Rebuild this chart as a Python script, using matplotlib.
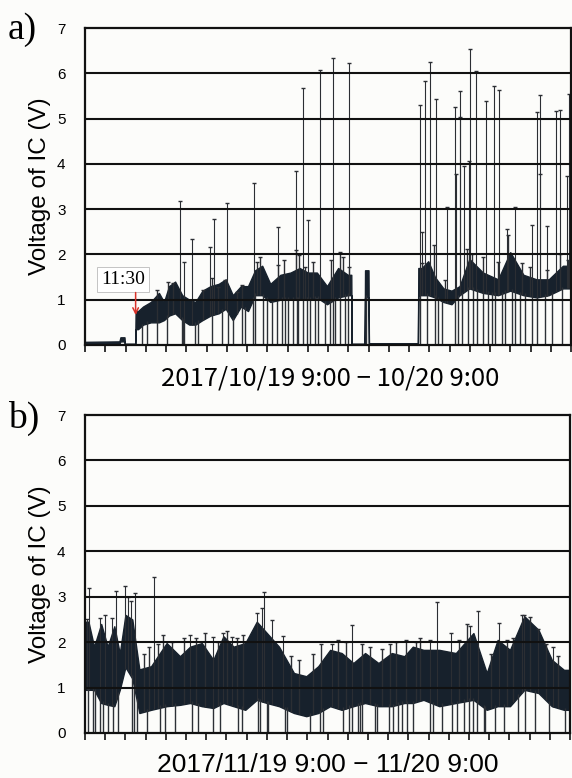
import numpy as np
import matplotlib.pyplot as plt

# ---- panel a : 2017/10/19 9:00 - 10/20 9:00 (hours after 9:00) ----
a_t = [0.0, 1.7, 1.75, 1.95, 1.97, 2.48, 2.5, 2.62, 2.87, 3.25, 3.65, 3.9, 4.15, 4.45,
       4.8, 5.15, 5.45, 5.8, 6.2, 6.6, 6.95, 7.3, 7.7, 8.05, 8.4, 8.75, 9.15, 9.65,
       10.15, 10.6, 11.0, 11.45, 11.95, 12.5, 12.98, 13.15, 13.17, 13.81, 13.83, 14.0,
       14.02, 16.44, 16.46, 16.63, 16.95, 17.28, 17.7, 18.1, 18.5, 18.98, 19.65, 20.4,
       21.0, 21.65, 22.3, 22.9, 23.6, 24.0]
a_lo = [0.03, 0.03, 0.08, 0.08, 0.0, 0.0, 0.35, 0.35, 0.45, 0.5, 0.5, 0.55, 0.65, 0.7,
        0.55, 0.45, 0.45, 0.55, 0.65, 0.7, 0.8, 0.55, 0.85, 0.75, 1.1, 1.1, 0.95, 1.0,
        1.0, 1.0, 1.0, 1.05, 0.9, 1.05, 1.1, 1.1, 0.0, 0.0, 1.05, 1.05,
        0.0, 0.0, 1.1, 1.1, 1.1, 1.05, 0.95, 0.9, 1.1, 1.25, 1.15, 1.1,
        1.2, 1.1, 1.05, 1.1, 1.25, 1.25]
a_hi = [0.07, 0.08, 0.17, 0.17, 0.03, 0.03, 0.75, 0.75, 0.85, 0.95, 1.15, 0.95, 1.3, 1.4,
        1.1, 1.0, 0.95, 1.2, 1.3, 1.35, 1.45, 1.1, 1.3, 1.3, 1.65, 1.75, 1.35, 1.55,
        1.6, 1.7, 1.6, 1.6, 1.3, 1.7, 1.55, 1.55, 0.03, 0.03, 1.65, 1.65,
        0.04, 0.04, 1.7, 1.7, 1.85, 1.5, 1.25, 1.2, 1.3, 1.9, 1.6, 1.45,
        2.05, 1.55, 1.45, 1.45, 1.75, 1.75]
a_drops = [2.8, 3.05, 3.54, 4.03, 4.77, 4.86, 4.9, 5.43, 5.6, 6.26, 6.75, 7.08, 7.33,
           7.74, 7.9, 8.31, 8.39, 8.81, 8.97, 9.22, 9.46, 9.71, 9.88, 10.04, 10.29,
           10.45, 10.53, 10.78, 10.95, 11.11, 11.36, 11.52, 11.85, 12.1, 12.26, 12.34,
           12.59, 12.84, 13.0, 13.9, 16.54, 16.87, 17.28, 17.45, 17.61, 18.27, 18.43,
           18.6, 18.93, 19.17, 19.34, 19.67, 19.92, 20.08, 20.24, 20.57, 20.74, 21.07,
           21.23, 21.48, 21.73, 22.05, 22.3, 22.71, 23.04, 23.54]
a_spike_x = [4.69, 4.89, 5.28, 6.17, 6.37, 7.01, 8.35, 9.53, 10.42, 10.77, 11.01, 11.60,
             12.25, 13.04, 16.54, 16.64, 16.79, 17.04, 17.33, 17.88, 18.27, 18.30, 18.52,
             18.54, 18.72, 18.96, 19.01, 19.31, 19.80, 20.20, 20.44, 20.84, 21.23, 22.07,
             22.32, 22.47, 22.49, 22.81, 23.26, 23.46, 23.80, 23.90]
a_spike_v = [3.19, 1.83, 2.35, 2.16, 2.79, 3.14, 3.57, 2.60, 3.84, 5.67, 2.77, 6.08,
             6.33, 6.23, 5.31, 2.49, 5.84, 6.25, 5.43, 3.05, 5.25, 3.78, 5.61,
             5.03, 3.95, 4.07, 6.53, 6.04, 5.39, 5.71, 5.62, 2.56, 3.05, 2.66,
             5.15, 5.52, 3.77, 2.62, 5.17, 5.19, 3.73, 5.54]
# short excursions just above the dense band
a_whisk_x = [3.54, 4.12, 4.36, 5.84, 6.26, 6.58, 6.91, 7.49, 7.74, 8.48, 8.64, 9.55,
             9.83, 10.4, 10.58, 10.86, 11.27, 12.15, 12.59, 12.76, 13.04, 16.62, 17.25,
             17.78, 18.85, 19.09, 19.67, 20.41, 20.9, 21.56, 21.97, 22.8, 23.45, 23.87]
a_whisk_v = [1.21, 1.40, 1.36, 1.21, 1.47, 1.29, 1.43, 1.18, 1.33, 1.84, 1.95, 1.77,
             1.88, 2.1, 1.99, 1.73, 1.84, 1.88, 2.06, 1.95, 1.73, 1.8, 2.21,
             1.43, 2.13, 2.02, 1.95, 1.84, 2.43, 1.8, 1.73, 1.65, 2.02, 1.88]

# ---- panel b : 2017/11/19 9:00 - 11/20 9:00 ----
b_t = [0.0, 0.17, 0.45, 0.8, 1.12, 1.45, 1.72, 2.0, 2.34, 2.69, 3.27, 4.04, 4.7, 5.2,
       5.78, 6.35, 6.85, 7.35, 7.93, 8.5, 9.0, 9.6, 10.34, 10.95, 11.54, 12.13, 12.7,
       13.28, 13.86, 14.52, 15.18, 15.8, 16.22, 16.75, 17.53, 18.35, 19.22, 19.88,
       20.42, 21.03, 21.74, 22.44, 23.1, 23.7, 24.0]
b_lo = [0.95, 0.95, 0.95, 0.66, 0.62, 0.59, 0.95, 1.45, 1.2, 0.44, 0.51, 0.59, 0.62, 0.66,
        0.59, 0.55, 0.66, 0.59, 0.51, 0.73, 0.66, 0.59, 0.44, 0.37, 0.44, 0.59, 0.51,
        0.59, 0.66, 0.59, 0.59, 0.66, 0.66, 0.73, 0.59, 0.66, 0.73, 0.51,
        0.59, 0.59, 0.95, 0.88, 0.59, 0.51, 0.51]
b_hi = [2.45, 2.45, 1.9, 2.4, 1.9, 2.35, 1.75, 2.6, 2.5, 1.4, 1.47, 1.98, 1.69, 1.9,
        1.98, 1.61, 2.13, 1.9, 1.98, 2.45, 2.2, 1.9, 1.32, 1.25, 1.47, 1.83, 1.76,
        1.54, 1.76, 1.54, 1.76, 1.69, 1.9, 1.83, 1.83, 1.76, 2.2, 1.32,
        2.05, 1.83, 2.57, 2.27, 1.61, 1.39, 1.39]
b_drops = [0.13, 0.41, 0.5, 0.74, 0.91, 1.16, 1.4, 1.65, 2.31, 2.44, 2.56, 3.05, 3.71,
           3.96, 4.46, 5.28, 5.61, 6.35, 6.68, 7.59, 7.76, 8.58, 8.66, 8.99, 9.08, 9.9,
           9.98, 11.14, 11.63, 11.8, 12.79, 13.04, 13.2, 13.53, 13.61, 13.7, 14.36,
           14.44, 15.02, 15.26, 15.51, 15.68, 15.92, 16.25, 17.08, 17.24, 17.66, 18.15,
           18.4, 18.73, 18.98, 19.22, 19.39, 19.72, 19.8, 20.3, 20.71, 21.45, 21.78,
           22.28, 22.94, 23.76]
b_spike_x = [0.08, 0.2, 0.74, 0.99, 1.32, 1.53, 1.98, 2.11, 2.26, 2.47, 3.41, 5.2, 6.35,
             6.85, 7.26, 8.5, 8.78, 8.88, 9.24, 9.78, 12.24, 13.2, 17.08, 17.41, 18.1,
             19.07, 19.44, 20.49, 21.62, 21.73, 22.44, 23.18]
b_spike_v = [2.5, 3.19, 2.53, 2.6, 2.53, 3.12, 3.23, 3.0, 2.9, 3.08, 3.44, 2.16, 2.12,
             2.2, 2.12, 2.64, 2.75, 3.1, 2.49, 2.13, 1.95, 2.38, 2.05, 2.88, 2.2,
             2.35, 2.68, 2.42, 2.6, 2.6, 2.3, 1.9]
b_whisk_x = [2.9, 3.15, 3.6, 3.85, 4.3, 4.9, 5.5, 5.95, 6.6, 7.05, 7.5, 7.8, 10.2,
             10.6, 11.3, 11.7, 12.5, 12.9, 13.7, 14.1, 14.7, 15.1, 15.4, 15.9, 16.4,
             16.6, 18.5, 18.9, 20.1, 20.9, 21.2, 22.0, 22.8, 23.4]
b_whisk_v = [1.75, 1.9, 1.95, 2.15, 2.0, 2.1, 2.1, 2.2, 2.0, 2.25, 2.1, 2.15, 1.7,
             1.6, 1.75, 1.95, 2.05, 2.0, 1.95, 1.9, 1.85, 1.95, 2.0, 2.05, 2.0,
             2.1, 2.05, 2.4, 1.75, 2.05, 2.1, 2.55, 1.95, 1.7]

band_col = '#17212c'
bg = '#fcfcfa'


def draw_panel(ax, t, lo, hi, drops, sx, sv, wx, wv):
    t = np.array(t)
    lo = np.array(lo)
    hi = np.array(hi)
    ax.fill_between(t, lo, hi, color=band_col, lw=1.0, edgecolor=band_col, zorder=2)
    d = np.array(drops)
    ax.vlines(d, 0, np.interp(d, t, lo) + 0.05, color='#2c3036', lw=1.0, zorder=2)
    sx = np.array(sx)
    ax.vlines(sx, np.interp(sx, t, lo), sv, color='#2b2e33', lw=0.8, zorder=2)
    ax.plot(sx, sv, ls='none', marker='_', ms=3, mew=1, color='#2b2e33', zorder=2)
    wx = np.array(wx)
    ax.vlines(wx, np.interp(wx, t, lo), wv, color='#2b2e33', lw=1.0, zorder=2)
    ax.plot(wx, wv, ls='none', marker='_', ms=3, mew=1, color='#2b2e33', zorder=2)

    for v in range(1, 7):
        ax.axhline(v, color='#111111', lw=1.5, zorder=3)
    ax.set_xlim(0, 24)
    ax.set_ylim(0, 7)
    ax.set_xticks(np.arange(0, 25))
    ax.set_xticklabels([])
    ax.set_yticks(range(8))
    ax.set_yticklabels([str(v) for v in range(8)], fontsize=11, family='Liberation Sans')
    ax.tick_params(axis='y', length=0, pad=14)
    ax.tick_params(axis='x', direction='out', length=5, width=1.2, color='#111111')
    for s in ax.spines.values():
        s.set_linewidth(1.6)
        s.set_color('#111111')
        s.set_zorder(4)
    ax.set_facecolor(bg)


fig = plt.figure(figsize=(5.72, 7.78), dpi=100, facecolor=bg)
ax1 = fig.add_axes([85 / 572, 1 - 345 / 778, 486 / 572, 317 / 778])
ax2 = fig.add_axes([85 / 572, 1 - 733 / 778, 485 / 572, 318 / 778])

draw_panel(ax1, a_t, a_lo, a_hi, a_drops, a_spike_x, a_spike_v, a_whisk_x, a_whisk_v)
draw_panel(ax2, b_t, b_lo, b_hi, b_drops, b_spike_x, b_spike_v, b_whisk_x, b_whisk_v)

for ax in (ax1, ax2):
    ax.set_ylabel('Voltage of IC (V)', fontsize=17.5, family='Liberation Sans', labelpad=4)

# 11:30 marker
ax1.text(1.88, 1.45, '11:30', fontsize=14, family='Liberation Serif', ha='center', va='center',
         bbox=dict(boxstyle='square,pad=0.2', fc='white', ec='#bbbbbb', lw=0.6), zorder=5)
ax1.annotate('', xy=(2.5, 0.6), xytext=(2.5, 1.22),
             arrowprops=dict(arrowstyle='->', color='#d8322a', lw=1.1), zorder=5)

fig.text(8 / 572, 1 - 30 / 778, 'a)', fontsize=27, family='Liberation Serif', va='center')
fig.text(8 / 572, 1 - 418 / 778, 'b)', fontsize=27, family='Liberation Serif', va='center')

fig.text(330 / 572, 1 - 378 / 778, '2017/10/19 9:00 − 10/20 9:00', fontsize=18.5,
         family=['Noto Sans CJK JP', 'DejaVu Sans'], ha='center', va='center')
fig.text(328 / 572, 1 - 765 / 778, '2017/11/19 9:00 − 11/20 9:00', fontsize=19,
         family='Liberation Sans', ha='center', va='center')

fig.savefig('out.png', dpi=100, facecolor=bg)
